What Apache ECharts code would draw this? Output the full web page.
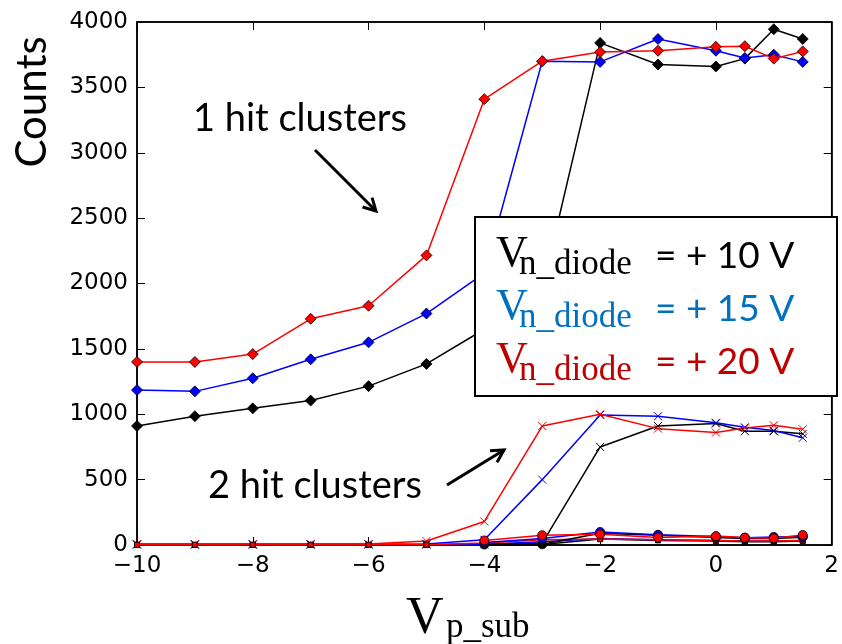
<!DOCTYPE html>
<html>
<head>
<meta charset="utf-8">
<script src="https://cdn.jsdelivr.net/npm/echarts@6/dist/echarts.min.js"></script>
<style>
  html, body { margin: 0; padding: 0; background: #fff; }
  #chart { width: 842px; height: 644px; }
</style>
</head>
<body>
<div id="chart"></div>
<script>
// Substrate bias sweep (V_p_sub, volts)
const vSub = [-10, -9, -8, -7, -6, -5, -4, -3, -2, -1, 0, 0.5, 1, 1.5];

// Cluster counts for each n-diode bias: 10 V, 15 V, 20 V
const oneHit10 = [910, 985, 1045, 1105, 1215, 1385, 1650, 1960, 3840, 3675, 3660, 3720, 3945, 3870];
const oneHit15 = [1185, 1175, 1275, 1420, 1550, 1770, 2080, 3700, 3695, 3870, 3780, 3725, 3750, 3695];
const oneHit20 = [1400, 1400, 1460, 1730, 1830, 2215, 3410, 3700, 3770, 3780, 3810, 3815, 3720, 3775];

const twoHit10 = [3, 3, 3, 3, 3, 3, 5, 15, 750, 910, 930, 870, 870, 850];
const twoHit15 = [5, 5, 5, 5, 5, 8, 40, 500, 995, 985, 935, 900, 875, 820];
const twoHit20 = [8, 8, 8, 8, 8, 30, 180, 910, 1000, 890, 860, 895, 915, 885];

// Larger clusters only recorded from -4 V upward
const threeHit10 = [null, null, null, null, null, null, 3, 5, 90, 75, 58, 50, 50, 60];
const threeHit15 = [null, null, null, null, null, null, 20, 50, 100, 78, 65, 55, 62, 65];
const threeHit20 = [null, null, null, null, null, null, 35, 75, 82, 58, 68, 57, 52, 77];

const fourHit10 = [1, 1, 1, 1, 1, 1, 2, 3, 45, 35, 30, 25, 25, 30];
const fourHit15 = [1, 1, 1, 1, 1, 1, 5, 25, 50, 40, 35, 30, 30, 35];
const fourHit20 = [2, 2, 2, 2, 2, 2, 15, 40, 45, 40, 35, 30, 30, 35];

// Axis ticks
const xTicks = { min: -10, max: 2, step: 2 };
const yTicks = { min: 0, max: 4000, step: 500 };

// Legend entries
const biasLabels = ['= + 10 V', '= + 15 V', '= + 20 V'];
const biasTextColors = ['#000000', '#0070C0', '#C00000'];
const lineColors = ['#000000', '#0000ff', '#ff0000'];

const pairs = ys => vSub.map((x, i) => [x, ys[i]]);
const crossPath = 'path://M0 0L10 10M10 0L0 10';

function makeSeries(name, ys, color, kind) {
  const s = {
    name: name,
    type: 'line',
    data: pairs(ys),
    clip: true,
    connectNulls: false,
    lineStyle: { color: color, width: 1.5 },
    emphasis: { disabled: true }
  };
  if (kind === 'diamond') {
    s.symbol = 'diamond';
    s.symbolSize = 11;
    s.itemStyle = { color: color, borderColor: '#000', borderWidth: 0.8 };
  } else if (kind === 'cross') {
    s.symbol = crossPath;
    s.symbolSize = 8;
    s.itemStyle = { color: color, borderColor: color, borderWidth: 1 };
  } else if (kind === 'circle') {
    s.symbol = 'circle';
    s.symbolSize = 9;
    s.itemStyle = { color: color, borderColor: '#000', borderWidth: 0.8 };
  } else {
    s.symbol = 'rect';
    s.symbolSize = 5;
    s.itemStyle = { color: color, borderColor: '#000', borderWidth: 0.8 };
  }
  return s;
}

const groups = [
  ['1 hit', [oneHit10, oneHit15, oneHit20], 'diamond'],
  ['2 hit', [twoHit10, twoHit15, twoHit20], 'cross'],
  ['4 hit', [fourHit10, fourHit15, fourHit20], 'rect'],
  ['3 hit', [threeHit10, threeHit15, threeHit20], 'circle']
];
const series = [];
groups.forEach(([label, sets, kind]) => {
  sets.forEach((ys, k) => series.push(makeSeries(label + ' ' + biasLabels[k], ys, lineColors[k], kind)));
});

const minusFmt = v => (v < 0 ? '\u2212' + Math.abs(v) : String(v));
const plainFmt = v => String(v);

const tickFont = { fontFamily: 'DejaVu Sans', fontSize: 23, color: '#000' };
const axisCommon = {
  type: 'value',
  axisLine: { show: true, onZero: false, lineStyle: { color: '#000', width: 1.5 } },
  axisTick: { show: true, inside: true, length: 8, lineStyle: { color: '#000', width: 1 } },
  splitLine: { show: false }
};

// Arrow helper: shaft plus two head strokes
function arrow(x1, y1, x2, y2) {
  const ang = Math.atan2(y2 - y1, x2 - x1);
  const L = 14, spread = 0.5;
  const h1 = [x2 - L * Math.cos(ang - spread), y2 - L * Math.sin(ang - spread)];
  const h2 = [x2 - L * Math.cos(ang + spread), y2 - L * Math.sin(ang + spread)];
  return [
    { type: 'line', z: 50, shape: { x1, y1, x2, y2 }, style: { stroke: '#000', lineWidth: 3 } },
    { type: 'polyline', z: 50, shape: { points: [h1, [x2, y2], h2] }, style: { stroke: '#000', lineWidth: 3, fill: null } }
  ];
}

const serif = '"Liberation Serif", "DejaVu Serif", serif';
const sans = 'Lato, "Open Sans", sans-serif';

const graphics = [];
// Axis titles
graphics.push({
  type: 'text', z: 50, x: 32, y: 102, rotation: Math.PI / 2,
  style: { text: 'Counts', font: 'normal 42px ' + sans, fill: '#000', textAlign: 'center', textVerticalAlign: 'middle' }
});
graphics.push({
  type: 'text', z: 50, x: 406, y: 619,
  style: { text: 'V', font: 'normal 52px ' + serif, fill: '#000', textAlign: 'left', textVerticalAlign: 'middle' }
});
graphics.push({
  type: 'text', z: 50, x: 446, y: 628,
  style: { text: 'p_sub', font: 'normal 35px ' + serif, fill: '#000', textAlign: 'left', textVerticalAlign: 'middle' }
});
// Annotations
graphics.push({
  type: 'text', z: 50, x: 193, y: 119,
  style: { text: '1 hit clusters', font: 'normal 38px ' + sans, fill: '#000', textAlign: 'left', textVerticalAlign: 'middle' }
});
graphics.push(...arrow(315, 150, 376, 211));
graphics.push({
  type: 'text', z: 50, x: 208, y: 486,
  style: { text: '2 hit clusters', font: 'normal 38px ' + sans, fill: '#000', textAlign: 'left', textVerticalAlign: 'middle' }
});
graphics.push(...arrow(447, 485, 504, 450));
// Legend box
graphics.push({
  type: 'rect', z: 60, shape: { x: 475, y: 217, width: 362, height: 179 },
  style: { fill: '#fff', stroke: '#000', lineWidth: 2 }
});
biasLabels.forEach((lab, i) => {
  const c = biasTextColors[i];
  const dy = 53 * i;
  graphics.push({
    type: 'text', z: 61, x: 496, y: 254 + dy,
    style: { text: 'V', font: 'normal 44px ' + serif, fill: c, textAlign: 'left', textVerticalAlign: 'middle' }
  });
  graphics.push({
    type: 'text', z: 61, x: 519, y: 265 + dy,
    style: { text: 'n_diode', font: 'normal 35px ' + serif, fill: c, textAlign: 'left', textVerticalAlign: 'middle' }
  });
  graphics.push({
    type: 'text', z: 61, x: 655, y: 256 + dy,
    style: { text: lab, font: 'normal 37px ' + sans, fill: c, textAlign: 'left', textVerticalAlign: 'middle' }
  });
});

const chart = echarts.init(document.getElementById('chart'), null, { renderer: 'canvas' });
chart.setOption({
  animation: false,
  backgroundColor: '#fff',
  grid: { left: 137, right: 7, top: 22, bottom: 99, show: true, borderColor: '#000', borderWidth: 1.5 },
  xAxis: [
    Object.assign({}, axisCommon, {
      min: xTicks.min, max: xTicks.max, interval: xTicks.step, position: 'bottom',
      axisLabel: Object.assign({ margin: 10, formatter: minusFmt }, tickFont)
    }),
    Object.assign({}, axisCommon, {
      min: xTicks.min, max: xTicks.max, interval: xTicks.step, position: 'top',
      axisLabel: { show: false }
    })
  ],
  yAxis: [
    Object.assign({}, axisCommon, {
      min: yTicks.min, max: yTicks.max, interval: yTicks.step, position: 'left',
      axisLabel: Object.assign({ margin: 9, formatter: plainFmt }, tickFont)
    }),
    Object.assign({}, axisCommon, {
      min: yTicks.min, max: yTicks.max, interval: yTicks.step, position: 'right',
      axisLabel: { show: false }
    })
  ],
  series: series,
  graphic: graphics
});
</script>
</body>
</html>
